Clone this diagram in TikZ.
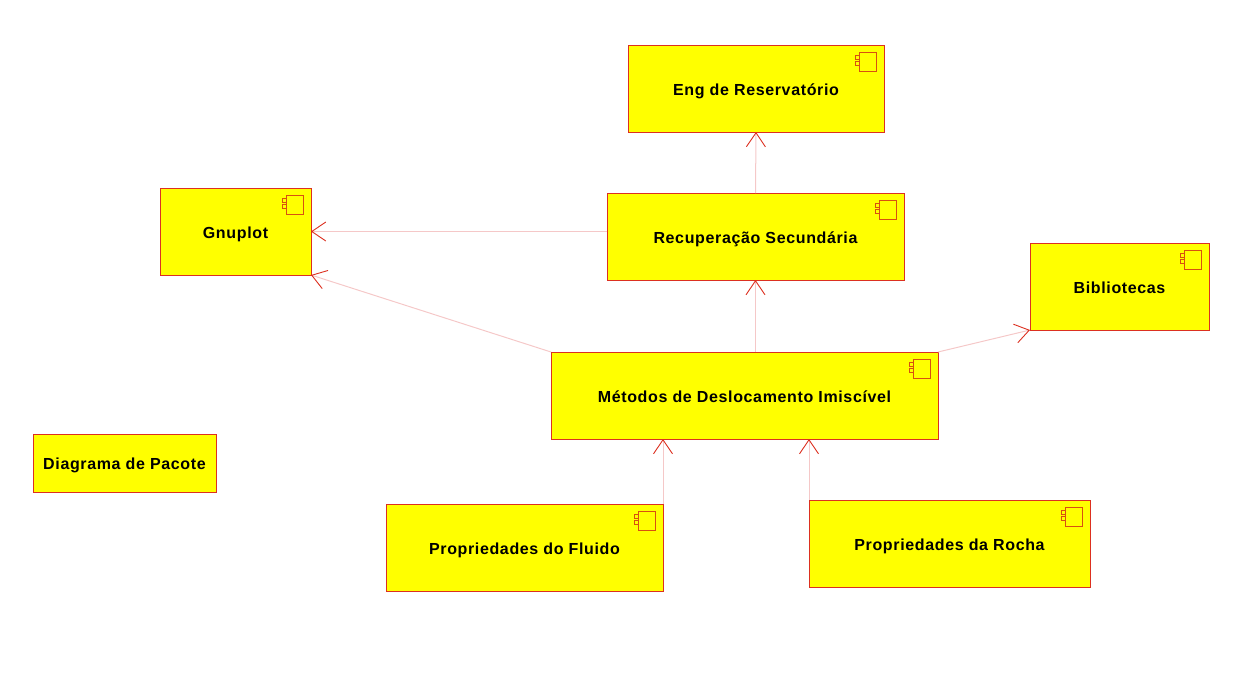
\documentclass[tikz,border=0pt]{standalone}
\usepackage{fontspec}
\setmainfont{Liberation Sans}
\usetikzlibrary{arrows.meta}
\definecolor{edgered}{HTML}{DC3020}
\definecolor{iconred}{HTML}{D8500F}
\definecolor{linkpink}{HTML}{F5C8C8}
\definecolor{boxyellow}{HTML}{FFFF00}
\tikzset{
  x=1pt,y=-1pt,
  compbox/.style={draw=edgered,fill=boxyellow,line width=1pt,inner sep=0pt,outer sep=0pt,anchor=north west,
    font=\fontsize{16}{18}\selectfont\bfseries\addfontfeature{LetterSpace=4},text=black,
    text height=13.5pt,text depth=0pt},
  dep/.style={draw=linkpink,line width=1pt,
    -{Straight Barb[color=edgered,length=14pt,width=19pt,line width=0.9pt]}},
  iconline/.style={draw=iconred,line width=0.9pt}
}
\newcommand{\compicon}[1]{%
  \draw[iconline] ([xshift=-25pt,yshift=-7pt]#1.north east) rectangle ([xshift=-8pt,yshift=-26pt]#1.north east);
  \draw[iconline] ([xshift=-29pt,yshift=-10pt]#1.north east) rectangle ([xshift=-25pt,yshift=-14pt]#1.north east);
  \draw[iconline] ([xshift=-29pt,yshift=-16pt]#1.north east) rectangle ([xshift=-25pt,yshift=-20pt]#1.north east);
}
\begin{document}
\begin{tikzpicture}
\useasboundingbox (0,0) rectangle (1240,678);
\node[compbox,minimum width=256pt,minimum height=87pt] (eng) at (628,45) {Eng de Reservatório};
\node[compbox,minimum width=151pt,minimum height=87pt] (gnu) at (160,188) {Gnuplot};
\node[compbox,minimum width=297pt,minimum height=87pt] (rec) at (607,193) {Recuperação Secundária};
\node[compbox,minimum width=179pt,minimum height=87pt] (bib) at (1030,243) {Bibliotecas};
\node[compbox,minimum width=387pt,minimum height=87pt] (met) at (551,352) {Métodos de Deslocamento Imiscível};
\node[compbox,minimum width=277pt,minimum height=87pt] (flu) at (386,504) {Propriedades do Fluido};
\node[compbox,minimum width=281pt,minimum height=87pt] (roc) at (809,500) {Propriedades da Rocha};
\node[compbox,minimum width=183pt,minimum height=58pt] (pac) at (33,434) {Diagrama de Pacote};
\compicon{eng}\compicon{gnu}\compicon{rec}\compicon{bib}\compicon{met}\compicon{flu}\compicon{roc}
\draw[dep] (rec.north) -- (eng.south);
\draw[dep] (rec.west |- gnu.east) -- (gnu.east);
\draw[dep] (met.north west) -- (gnu.south east);
\draw[dep] (rec.south |- met.north) -- (rec.south);
\draw[dep] (met.north east) -- (bib.south west);
\draw[dep] (flu.north east) -- (flu.north east |- met.south);
\draw[dep] (roc.north west) -- (roc.north west |- met.south);
\end{tikzpicture}
\end{document}
